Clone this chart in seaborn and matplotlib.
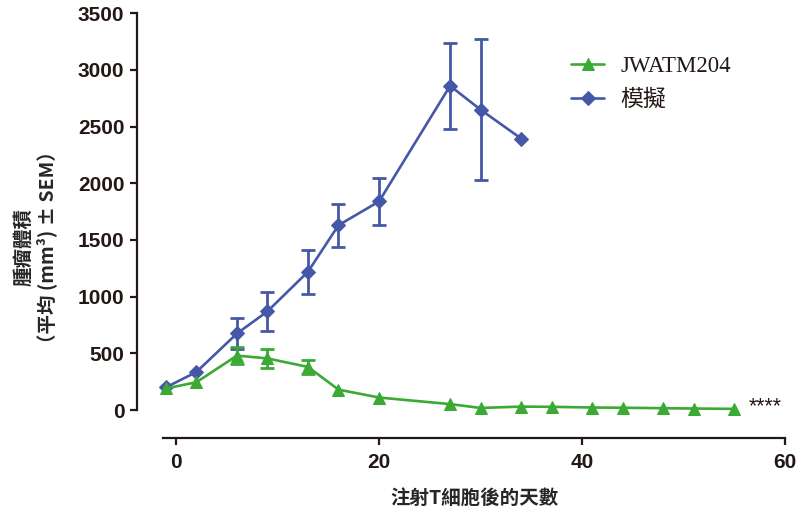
import matplotlib
matplotlib.use("Agg")
import matplotlib.pyplot as plt
import seaborn as sns
import pandas as pd
import numpy as np
from matplotlib.font_manager import FontProperties

# ---- data ----
days_mock = [-1, 2, 6, 9, 13, 16, 20, 27, 30, 34]
vol_mock = [200, 335, 675, 870, 1220, 1630, 1840, 2860, 2650, 2395]
sem_mock = [0, 0, 135, 170, 195, 190, 210, 380, 625, 0]

days_jw = [-1, 2, 6, 9, 13, 16, 20, 27, 30, 34, 37, 41, 44, 48, 51, 55]
vol_jw = [190, 245, 480, 455, 380, 180, 110, 52, 18, 30, 28, 22, 20, 16, 13, 10]
sem_jw = [0, 0, 75, 85, 60, 0, 0, 0, 0, 0, 0, 0, 0, 0, 0, 0]

label_jw = "JWATM204"
label_mock = "模擬"
x_label = "注射T細胞後的天數"
y_label = "腫瘤體積\n（平均 (mm³) ± SEM）"
x_ticks = [0, 20, 40, 60]
y_ticks = [0, 500, 1000, 1500, 2000, 2500, 3000, 3500]
signif = "****"

GREEN = "#3aaa35"
BLUE = "#4558a8"
DARK = "#231815"

sns.set_theme(style="ticks")
plt.rcParams["font.family"] = ["Liberation Sans", "Noto Sans CJK TC", "DejaVu Sans"]
plt.rcParams["axes.edgecolor"] = DARK
plt.rcParams["text.color"] = DARK
plt.rcParams["xtick.color"] = DARK
plt.rcParams["ytick.color"] = DARK

df_mock = pd.DataFrame({"day": days_mock, "vol": vol_mock, "sem": sem_mock})
df_jw = pd.DataFrame({"day": days_jw, "vol": vol_jw, "sem": sem_jw})

fig = plt.figure(figsize=(7.98, 5.13), dpi=100)
ax = fig.add_axes([137 / 798, 1 - 438 / 513, 648 / 798, (438 - 13.3) / 513])

# mock (blue) first so green lies on top
em = df_mock[df_mock["sem"] > 0]
ax.errorbar(em["day"], em["vol"], yerr=em["sem"], fmt="none", ecolor=BLUE,
            elinewidth=2.0, capsize=4.8, capthick=2.0, zorder=2)
sns.lineplot(data=df_mock, x="day", y="vol", ax=ax, color=BLUE, marker="D",
             markersize=7, markeredgecolor=BLUE, linewidth=1.9, label=label_mock,
             zorder=3)

ej = df_jw[df_jw["sem"] > 0]
ax.errorbar(ej["day"], ej["vol"], yerr=ej["sem"], fmt="none", ecolor=GREEN,
            elinewidth=2.0, capsize=4.8, capthick=2.0, zorder=4)
sns.lineplot(data=df_jw, x="day", y="vol", ax=ax, color=GREEN, marker="^",
             markersize=8.5, markeredgecolor=GREEN, linewidth=1.9, label=label_jw,
             zorder=5)

ax.set_xlim(-3.85, 60)
ax.set_ylim(-247, 3500)
ax.set_xticks(x_ticks)
ax.set_yticks(y_ticks)
ax.spines["top"].set_visible(False)
ax.spines["right"].set_visible(False)
ax.spines["left"].set_bounds(0, 3500)
ax.spines["bottom"].set_bounds(-1.3, 60)
ax.spines["left"].set_linewidth(1.6)
ax.spines["bottom"].set_linewidth(1.6)
ax.tick_params(axis="both", length=5, width=1.6, labelsize=15, pad=4)
ax.tick_params(axis="x", pad=6)
for lab in ax.get_xticklabels() + ax.get_yticklabels():
    lab.set_fontweight("bold")

ax.set_xlabel(x_label, fontsize=14, fontweight="bold",
              family=["Noto Sans CJK TC", "DejaVu Sans"])
ax.xaxis.set_label_coords((474 - 137) / 648, (438 - 508) / 424.7)
ax.xaxis.label.set_va("bottom")
ax.set_ylabel(y_label, fontsize=14, fontweight="bold",
              family=["Noto Sans CJK TC", "DejaVu Sans"], linespacing=1.15)
ax.yaxis.set_label_coords((57 - 137) / 648, (438 - 247) / 424.7)

ax.text(56.4, 25, signif, fontsize=15.5, va="center", ha="left", color="#231815")

handles, labels = ax.get_legend_handles_labels()
order = [labels.index(label_jw), labels.index(label_mock)]
leg = ax.legend([handles[i] for i in order], [labels[i] for i in order],
                loc="upper left", bbox_to_anchor=((571 - 137) / 648, 1 - (56 - 13.3) / 424.7),
                frameon=False, borderpad=0, borderaxespad=0, handlelength=1.45,
                handletextpad=0.7, labelspacing=0.55,
                prop=FontProperties(family=["Liberation Serif", "Noto Sans CJK TC"], size=16.5))

fig.savefig("out.png", dpi=100)
